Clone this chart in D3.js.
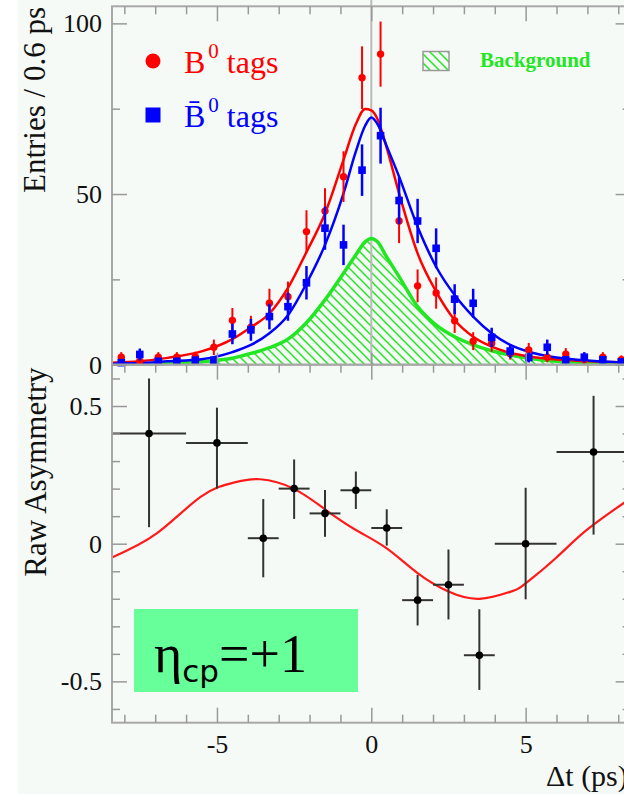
<!DOCTYPE html>
<html>
<head>
<meta charset="utf-8">
<script src="https://cdn.jsdelivr.net/npm/d3@7"></script>
<style>
body { margin: 0; background: #ffffff; }
svg { display: block; }
text { font-family: "Liberation Serif", "DejaVu Serif", serif; }
</style>
</head>
<body>
<div id="chart"></div>
<script>
// Top panel: entries per 0.6 ps bin
var binCenters = [-8.1, -7.5, -6.9, -6.3, -5.7, -5.1, -4.5, -3.9, -3.3, -2.7, -2.1, -1.5, -0.9, -0.3,
                  0.3, 0.9, 1.5, 2.1, 2.7, 3.3, 3.9, 4.5, 5.1, 5.7, 6.3, 6.9, 7.5, 8.1];
var b0Tags = [2.2, 1.0, 2.2, 2.2, 2.3, 5.1, 13.0, 11.0, 18.0, 19.9, 39.0, 45.0, 55.1, 84.1,
              91.0, 42.1, 23.1, 21.0, 12.9, 6.9, 6.3, 3.3, 4.3, 2.2, 3.1, 1.5, 2.2, 1.5];
var b0barTags = [0.6, 3.0, 1.0, 1.0, 1.3, 1.3, 9.0, 10.2, 14.1, 17.0, 24.0, 40.0, 35.1, 57.0,
                 67.1, 48.1, 42.1, 34.1, 19.2, 18.0, 8.0, 4.0, 2.1, 5.1, 1.4, 2.2, 1.4, 0.8];

// Fit curves
var fitX = [-8.4, -7.5, -6.6, -5.5, -4.5, -3.9, -3.3, -2.7, -2.1, -1.5, -0.9, -0.5, -0.2, 0,
            0.2, 0.5, 0.9, 1.5, 2.1, 2.7, 3.3, 3.9, 4.5, 5.1, 6.0, 6.9, 7.8, 8.4];
var b0Fit = [0.6, 1.0, 2.0, 3.9, 7.5, 11.0, 15.0, 22.5, 33.0, 44.3, 60.0, 70.5, 74.9, 74.5,
             72.0, 63.5, 50.2, 32.6, 21.4, 13.1, 8.2, 5.3, 3.5, 2.4, 1.5, 1.1, 0.8, 0.6];
var b0barFit = [0.3, 0.5, 1.0, 1.6, 3.7, 5.8, 9.2, 14.5, 23.8, 35.1, 50.2, 62.5, 70.0, 72.4,
                70.5, 64.0, 55.1, 40.4, 28.7, 20.4, 14.1, 9.2, 5.8, 3.8, 2.1, 1.3, 0.8, 0.6];
var bkgFit = [0.1, 0.2, 0.4, 0.9, 1.9, 3.3, 5.0, 7.5, 12.3, 19.0, 26.8, 32.2, 36.0, 37.0,
              36.0, 31.5, 25.8, 17.0, 11.6, 8.2, 5.8, 4.1, 2.8, 1.9, 1.0, 0.6, 0.3, 0.2];

// Bottom panel: raw asymmetry
var asymX = [-7.2, -5.0, -3.5, -2.5, -1.5, -0.5, 0.5, 1.5, 2.5, 3.5, 5.0, 7.2];
var asymLo = [-8.4, -6, -4, -3, -2, -1, 0, 1, 2, 3, 4, 6];
var asymHi = [-6, -4, -3, -2, -1, 0, 1, 2, 3, 4, 6, 8.4];
var asymVal = [0.40, 0.366, 0.02, 0.20, 0.11, 0.194, 0.057, -0.205, -0.149, -0.405, 0.0, 0.333];
var asymErrUp = [0.20, 0.128, 0.142, 0.106, 0.085, 0.068, 0.068, 0.092, 0.128, 0.167, 0.203, 0.204];
var asymErrDn = [0.34, 0.166, 0.142, 0.110, 0.085, 0.068, 0.064, 0.092, 0.126, 0.126, 0.202, 0.300];
var asymFitX = [-8.4, -6.94, -5.53, -4.46, -3.6, -2.52, -1.5, -0.5, 0.5, 1.5, 2.5, 3.5, 4.5, 5.0, 6.0, 6.98, 8.4];
var asymFit = [-0.05, 0.038, 0.17, 0.222, 0.234, 0.20, 0.125, 0.05, -0.017, -0.107, -0.174, -0.20, -0.175, -0.144, -0.05, 0.05, 0.165];

// Ticks
var topYTicks = [0, 50, 100];
var topYMinor = [25, 75];
var botYTicks = [-0.5, 0, 0.5];
var botYMinor = [-0.6, -0.4, -0.3, -0.2, -0.1, 0.1, 0.2, 0.3, 0.4, 0.6];
var xTicks = [-5, 0, 5];
var xMinor = [-8, -7, -6, -4, -3, -2, -1, 1, 2, 3, 4, 6, 7, 8];

var RED = "#ff0000", BLUE = "#0000ff", GREEN = "#22e622", FRAME = "#a8a8a8";

var main = function () {
    "use strict";

    var svg = d3.select("#chart").append("svg")
        .attr("width", 624)
        .attr("height", 794);

    // Hatch pattern for the background component
    var defs = svg.append("defs");
    defs.append("pattern")
        .attr("id", "hatch")
        .attr("patternUnits", "userSpaceOnUse")
        .attr("width", 9).attr("height", 9)
        .append("path")
        .attr("d", "M-1,-1 L10,10 M-1,8 L1,10 M8,-1 L10,1")
        .attr("stroke", GREEN)
        .attr("stroke-width", 1.5);

    svg.append("rect")
        .attr("x", 18).attr("y", 0)
        .attr("width", 606).attr("height", 794)
        .attr("fill", "#f6faf7");

    var x = d3.scaleLinear().domain([-8.4, 8.4]).range([112, 630.6]);
    var yTop = d3.scaleLinear().domain([0, 105]).range([364.7, 6.3]);
    var yBot = d3.scaleLinear().domain([-0.65, 0.65]).range([722.7, 364.7]);

    // ---------- top panel ----------
    // background (hatched)
    var bkgData = fitX.map(function (d, i) { return {x: d, y: bkgFit[i]}; });
    svg.append("path")
        .datum(bkgData)
        .attr("fill", "url(#hatch)")
        .attr("d", d3.area()
            .curve(d3.curveMonotoneX)
            .x(function (d) { return x(d.x); })
            .y0(yTop(0))
            .y1(function (d) { return yTop(d.y); }));

    // vertical line at dt = 0
    svg.append("line")
        .attr("x1", x(0)).attr("x2", x(0))
        .attr("y1", 0).attr("y2", yTop(0))
        .attr("stroke", "#bbbbbb")
        .attr("stroke-width", 2);

    svg.append("path")
        .datum(bkgData)
        .attr("fill", "none")
        .attr("stroke", GREEN)
        .attr("stroke-width", 3.5)
        .attr("d", d3.line()
            .curve(d3.curveMonotoneX)
            .x(function (d) { return x(d.x); })
            .y(function (d) { return yTop(d.y); }));

    drawFit(svg, x, yTop, fitX, b0Fit, RED);
    drawFit(svg, x, yTop, fitX, b0barFit, BLUE);

    // B0 tags: circles with sqrt(N) error bars
    var redPts = binCenters.map(function (d, i) { return {x: d, y: b0Tags[i]}; });
    var bluePts = binCenters.map(function (d, i) { return {x: d, y: b0barTags[i]}; });

    drawCounts(svg, x, yTop, redPts, RED, 2);
    svg.append("g").selectAll("circle")
        .data(redPts).enter()
        .append("circle")
        .attr("cx", function (d) { return x(d.x); })
        .attr("cy", function (d) { return yTop(d.y); })
        .attr("r", 3.7)
        .attr("fill", RED);

    drawCounts(svg, x, yTop, bluePts, BLUE, 2.5);
    svg.append("g").selectAll("rect")
        .data(bluePts).enter()
        .append("rect")
        .attr("x", function (d) { return x(d.x) - 3.8; })
        .attr("y", function (d) { return yTop(d.y) - 3.8; })
        .attr("width", 7.6).attr("height", 7.6)
        .attr("fill", BLUE);

    // ---------- bottom panel ----------
    svg.append("path")
        .datum(asymFitX.map(function (d, i) { return {x: d, y: asymFit[i]}; }))
        .attr("fill", "none")
        .attr("stroke", "#ff1a1a")
        .attr("stroke-width", 2.2)
        .attr("d", d3.line()
            .curve(d3.curveNatural)
            .x(function (d) { return x(d.x); })
            .y(function (d) { return yBot(d.y); }));

    var asym = asymX.map(function (d, i) {
        return {x: d, y: asymVal[i], lo: asymLo[i], hi: asymHi[i], up: asymErrUp[i], dn: asymErrDn[i]};
    });
    var ag = svg.append("g");
    ag.selectAll(".hbar").data(asym).enter().append("line")
        .attr("x1", function (d) { return x(d.lo); })
        .attr("x2", function (d) { return x(d.hi); })
        .attr("y1", function (d) { return yBot(d.y); })
        .attr("y2", function (d) { return yBot(d.y); })
        .attr("stroke", "#333333").attr("stroke-width", 2);
    ag.selectAll(".vbar").data(asym).enter().append("line")
        .attr("x1", function (d) { return x(d.x); })
        .attr("x2", function (d) { return x(d.x); })
        .attr("y1", function (d) { return yBot(d.y + d.up); })
        .attr("y2", function (d) { return yBot(d.y - d.dn); })
        .attr("stroke", "#333333").attr("stroke-width", 2);
    ag.selectAll("circle").data(asym).enter().append("circle")
        .attr("cx", function (d) { return x(d.x); })
        .attr("cy", function (d) { return yBot(d.y); })
        .attr("r", 3.8)
        .attr("fill", "#000000");

    // ---------- frames and axes ----------
    svg.append("rect")
        .attr("x", 112).attr("y", yTop(105))
        .attr("width", 518.6).attr("height", yTop(0) - yTop(105))
        .attr("fill", "none").attr("stroke", FRAME).attr("stroke-width", 2);
    svg.append("rect")
        .attr("x", 112).attr("y", yBot(0.65))
        .attr("width", 518.6).attr("height", yBot(-0.65) - yBot(0.65))
        .attr("fill", "none").attr("stroke", FRAME).attr("stroke-width", 2);

    var fmt = function (d) { return String(d); };
    var none = function () { return ""; };

    // top panel y axes
    addAxis(svg, d3.axisLeft(yTop).tickValues(topYTicks).tickSize(-15).tickPadding(10).tickFormat(fmt), 112, 0);
    addAxis(svg, d3.axisLeft(yTop).tickValues(topYMinor).tickSize(-8).tickFormat(none), 112, 0);
    addAxis(svg, d3.axisRight(yTop).tickValues(topYTicks).tickSize(-15).tickFormat(none), 630.6, 0);
    addAxis(svg, d3.axisRight(yTop).tickValues(topYMinor).tickSize(-8).tickFormat(none), 630.6, 0);
    // top panel x axes
    addAxis(svg, d3.axisTop(x).tickValues(xTicks).tickSize(-15).tickFormat(none), 0, yTop(105));
    addAxis(svg, d3.axisTop(x).tickValues(xMinor).tickSize(-8).tickFormat(none), 0, yTop(105));
    addAxis(svg, d3.axisBottom(x).tickValues(xTicks).tickSize(-12).tickFormat(none), 0, yTop(0));

    // bottom panel y axes
    addAxis(svg, d3.axisLeft(yBot).tickValues(botYTicks).tickSize(-15).tickPadding(10).tickFormat(fmt), 112, 0);
    addAxis(svg, d3.axisLeft(yBot).tickValues(botYMinor).tickSize(-8).tickFormat(none), 112, 0);
    addAxis(svg, d3.axisRight(yBot).tickValues(botYTicks).tickSize(-15).tickFormat(none), 630.6, 0);
    addAxis(svg, d3.axisRight(yBot).tickValues(botYMinor).tickSize(-8).tickFormat(none), 630.6, 0);
    // bottom panel x axes
    addAxis(svg, d3.axisTop(x).tickValues(xTicks).tickSize(-15).tickFormat(none), 0, yBot(0.65));
    addAxis(svg, d3.axisTop(x).tickValues(xMinor).tickSize(-8).tickFormat(none), 0, yBot(0.65));
    addAxis(svg, d3.axisBottom(x).tickValues(xTicks).tickSize(-15).tickPadding(12).tickFormat(fmt), 0, yBot(-0.65));
    addAxis(svg, d3.axisBottom(x).tickValues(xMinor).tickSize(-8).tickFormat(none), 0, yBot(-0.65));

    // axis titles
    svg.append("text")
        .attr("transform", "translate(45,100) rotate(-90)")
        .attr("text-anchor", "middle")
        .style("font-size", "31px")
        .attr("fill", "#111")
        .text("Entries / 0.6 ps");
    svg.append("text")
        .attr("transform", "translate(46,472) rotate(-90)")
        .attr("text-anchor", "middle")
        .style("font-size", "31px")
        .attr("fill", "#111")
        .text("Raw Asymmetry");
    svg.append("text")
        .attr("x", 546).attr("y", 786)
        .style("font-size", "30px")
        .attr("fill", "#111")
        .text("\u0394t (ps)");

    // ---------- legend ----------
    svg.append("circle").attr("cx", 153).attr("cy", 61).attr("r", 7.5).attr("fill", RED);
    var l1 = svg.append("text").attr("x", 184).attr("y", 73)
        .attr("fill", RED).style("font-size", "32px");
    l1.append("tspan").text("B");
    l1.append("tspan").attr("dy", -15).attr("dx", 3).style("font-size", "21px").text("0");
    l1.append("tspan").attr("dy", 15).attr("dx", 8).text("tags");

    svg.append("rect").attr("x", 145.5).attr("y", 107.5).attr("width", 15).attr("height", 15).attr("fill", BLUE);
    var l2 = svg.append("text").attr("x", 184).attr("y", 127)
        .attr("fill", BLUE).style("font-size", "32px");
    l2.append("tspan").text("B\u0304");
    l2.append("tspan").attr("dy", -15).attr("dx", 3).style("font-size", "21px").text("0");
    l2.append("tspan").attr("dy", 15).attr("dx", 8).text("tags");

    svg.append("rect")
        .attr("x", 423).attr("y", 51.5).attr("width", 26).attr("height", 19)
        .attr("fill", "url(#hatch)").attr("stroke", "#999").attr("stroke-width", 1.5);
    svg.append("text").attr("x", 480).attr("y", 67)
        .attr("fill", GREEN)
        .style("font-size", "21px")
        .style("font-weight", "bold")
        .text("Background");

    // eta_cp label box
    svg.append("rect")
        .attr("x", 134).attr("y", 609).attr("width", 224).attr("height", 83)
        .attr("fill", "#66ff99");
    var eta = svg.append("text").attr("x", 154).attr("y", 672)
        .attr("fill", "#000").style("font-size", "54px");
    eta.append("tspan").text("\u03b7");
    eta.append("tspan").attr("dy", 10)
        .style("font-family", "'DejaVu Sans', sans-serif")
        .style("font-size", "31px")
        .text("cp");
    eta.append("tspan").attr("dy", -10).text("=+1");
};

function drawFit(svg, x, y, xs, ys, color) {
    svg.append("path")
        .datum(xs.map(function (d, i) { return {x: d, y: ys[i]}; }))
        .attr("fill", "none")
        .attr("stroke", color)
        .attr("stroke-width", 2.5)
        .attr("d", d3.line()
            .curve(d3.curveMonotoneX)
            .x(function (d) { return x(d.x); })
            .y(function (d) { return y(d.y); }));
}

function drawCounts(svg, x, y, pts, color, width) {
    // Poisson error bars
    svg.append("g").selectAll("line")
        .data(pts).enter()
        .append("line")
        .attr("x1", function (d) { return x(d.x); })
        .attr("x2", function (d) { return x(d.x); })
        .attr("y1", function (d) { return y(d.y + Math.sqrt(d.y)); })
        .attr("y2", function (d) { return y(Math.max(0, d.y - Math.sqrt(d.y))); })
        .attr("stroke", color)
        .attr("stroke-width", width);
}

function addAxis(svg, axis, tx, ty) {
    var g = svg.append("g")
        .attr("transform", "translate(" + tx + "," + ty + ")")
        .call(axis);
    g.select(".domain").remove();
    g.selectAll(".tick line").attr("stroke", "#999").attr("stroke-width", 1.5);
    g.selectAll(".tick text")
        .attr("fill", "#111")
        .style("font-family", "'Liberation Serif', serif")
        .style("font-size", "26px");
    return g;
}

main();
</script>
</body>
</html>
